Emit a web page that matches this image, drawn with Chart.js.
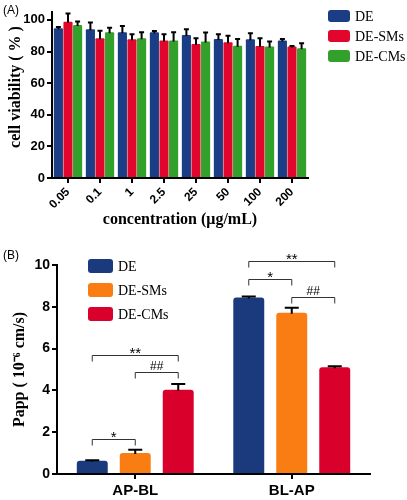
<!DOCTYPE html>
<html>
<head>
<meta charset="utf-8">
<script src="https://cdn.jsdelivr.net/npm/chart.js@4.4.0/dist/chart.umd.min.js"></script>
<style>
	html, body { margin: 0; padding: 0; background: #fff; }
	#wrap { position: relative; width: 407px; height: 500px; }
	canvas { position: absolute; left: 0; }
	#chartA { top: 0; }
	#chartB { top: 232px; }
	.panel { position: absolute; left: 3px; font: 12px "Liberation Sans", Arial, sans-serif; color: #000; }
</style>
</head>
<body>
<div id="wrap">
	<canvas id="chartA" width="407" height="232"></canvas>
	<canvas id="chartB" width="407" height="268"></canvas>
	<div class="panel" style="top:3px">(A)</div>
	<div class="panel" style="top:248px">(B)</div>
</div>
<script>
// panel A: cell viability
const concentrations = ["0.05", "0.1", "1", "2.5", "25", "50", "100", "200"];
const viabilityDE = [94.7, 94.1, 92.2, 92.2, 90.5, 88.0, 87.8, 86.9];
const viabilityDEErr = [0.8, 4.2, 4.0, 0.8, 3.6, 3.0, 3.8, 1.1];
const viabilitySMs = [98.9, 88.4, 87.8, 86.9, 84.8, 85.9, 83.5, 83.1];
const viabilitySMsErr = [5.1, 4.8, 3.2, 4.1, 3.6, 4.1, 4.9, 0.4];
const viabilityCMs = [96.8, 92.2, 88.4, 86.9, 86.3, 83.7, 83.1, 82.1];
const viabilityCMsErr = [2.2, 2.9, 3.8, 5.3, 5.7, 4.3, 3.2, 3.2];
const viabilityTicks = [0, 20, 40, 60, 80, 100];

// panel B: permeability
const directions = ["AP-BL", "BL-AP"];
const pappDE = [0.63, 8.44];
const pappDEErr = [0.03, 0.05];
const pappSMs = [1.0, 7.72];
const pappSMsErr = [0.16, 0.23];
const pappCMs = [4.03, 5.11];
const pappCMsErr = [0.28, 0.04];
const pappTicks = [0, 2, 4, 6, 8, 10];

// [category, from series, to series, height, label]
const significance = [
	[0, 0, 1, 1.67, "*"],
	[0, 1, 2, 4.87, "##"],
	[0, 0, 2, 5.67, "**"],
	[1, 0, 1, 9.33, "*"],
	[1, 1, 2, 8.49, "##"],
	[1, 0, 2, 10.2, "**"],
];

const SANS = "'Liberation Sans', Arial, sans-serif";
const SERIF = "'Liberation Serif', 'Times New Roman', serif";

const errorBars = {
	id: "errorBars",
	afterDatasetsDraw(chart, args, opts) {
		const ctx = chart.ctx;
		const y = chart.scales.y;
		ctx.save();
		ctx.strokeStyle = "#000";
		ctx.lineWidth = opts.lineWidth;
		chart.data.datasets.forEach((ds, i) => {
			const meta = chart.getDatasetMeta(i);
			meta.data.forEach((bar, j) => {
				const top = y.getPixelForValue(ds.data[j] + ds.errors[j]);
				ctx.beginPath();
				ctx.moveTo(bar.x, bar.y + 1);
				ctx.lineTo(bar.x, top);
				ctx.moveTo(bar.x - opts.cap / 2, top);
				ctx.lineTo(bar.x + opts.cap / 2, top);
				ctx.stroke();
			});
		});
		ctx.restore();
	},
};

const panelLegend = {
	id: "panelLegend",
	afterDraw(chart, args, opts) {
		const ctx = chart.ctx;
		ctx.save();
		chart.data.datasets.forEach((ds, i) => {
			const cy = opts.y + i * opts.gap;
			ctx.fillStyle = ds.backgroundColor;
			ctx.beginPath();
			ctx.roundRect(opts.x, cy - opts.boxH / 2, opts.boxW, opts.boxH, 3);
			ctx.fill();
			ctx.fillStyle = "#000";
			ctx.font = opts.font;
			ctx.textBaseline = "middle";
			ctx.textAlign = "left";
			ctx.fillText(ds.label, opts.x + opts.boxW + 5, cy + 1);
		});
		ctx.restore();
	},
};

const brackets = {
	id: "brackets",
	afterDatasetsDraw(chart, args, opts) {
		if (!opts.items) return;
		const ctx = chart.ctx;
		const y = chart.scales.y;
		ctx.save();
		opts.items.forEach(([cat, a, b, h, label]) => {
			const x1 = chart.getDatasetMeta(a).data[cat].x;
			const x2 = chart.getDatasetMeta(b).data[cat].x;
			const py = Math.round(y.getPixelForValue(h)) + 0.5;
			ctx.strokeStyle = "#333";
			ctx.lineWidth = 1;
			ctx.beginPath();
			ctx.moveTo(x1, py + 6);
			ctx.lineTo(x1, py);
			ctx.lineTo(x2, py);
			ctx.lineTo(x2, py + 6);
			ctx.stroke();
			ctx.fillStyle = "#000";
			ctx.font = label === "##" ? "12px " + SANS : "15px " + SANS;
			ctx.textAlign = "center";
			ctx.textBaseline = "alphabetic";
			ctx.fillText(label, (x1 + x2) / 2, label === "##" ? py - 3 : py + 2);
		});
		ctx.restore();
	},
};

function axisGrid() {
	return {
		display: true,
		drawOnChartArea: false,
		drawTicks: true,
		tickLength: 5,
		color: "#000",
		lineWidth: 2,
		offset: false,
	};
}

new Chart(document.getElementById("chartA"), {
	type: "bar",
	data: {
		labels: concentrations,
		datasets: [
			{ label: "DE", data: viabilityDE, errors: viabilityDEErr, backgroundColor: "#1b3d86" },
			{ label: "DE-SMs", data: viabilitySMs, errors: viabilitySMsErr, backgroundColor: "#e2062c" },
			{ label: "DE-CMs", data: viabilityCMs, errors: viabilityCMsErr, backgroundColor: "#33a02c" },
		],
	},
	options: {
		responsive: false,
		animation: false,
		devicePixelRatio: 1,
		datasets: {
			bar: { categoryPercentage: 0.9, barPercentage: 0.95, borderRadius: 1 },
		},
		layout: { padding: { top: 12, right: 99, left: 0, bottom: 0 } },
		plugins: {
			legend: { display: false },
			tooltip: { enabled: false },
			errorBars: { lineWidth: 2, cap: 5 },
			panelLegend: { x: 328, y: 16, gap: 20, boxW: 22, boxH: 12, font: "14px " + SERIF },
		},
		scales: {
			x: {
				grid: axisGrid(),
				border: { display: true, color: "#000", width: 2 },
				ticks: {
					autoSkip: false,
					minRotation: 45,
					maxRotation: 45,
					color: "#000",
					padding: 2,
					font: { family: SANS, size: 12, weight: "bold" },
				},
				title: {
					display: true,
					text: "concentration (μg/mL)",
					color: "#000",
					padding: { top: 0, bottom: 3 },
					font: { family: SERIF, size: 16, weight: "bold" },
				},
				afterFit: (scale) => { scale.height = 54; },
			},
			y: {
				min: 0,
				max: 105,
				afterBuildTicks: (scale) => { scale.ticks = viabilityTicks.map((v) => ({ value: v })); },
				grid: axisGrid(),
				border: { display: true, color: "#000", width: 2 },
				ticks: {
					color: "#000",
					padding: 2,
					font: { family: SANS, size: 13, weight: "bold" },
				},
				title: {
					display: true,
					text: "    cell viability ( % )",
					color: "#000",
					padding: { top: 6, bottom: 0 },
					font: { family: SERIF, size: 16, weight: "bold" },
				},
				afterFit: (scale) => { scale.width = 52; },
			},
		},
	},
	plugins: [errorBars, panelLegend],
});

new Chart(document.getElementById("chartB"), {
	type: "bar",
	data: {
		labels: directions,
		datasets: [
			{ label: "DE", data: pappDE, errors: pappDEErr, backgroundColor: "#1b3a7d" },
			{ label: "DE-SMs", data: pappSMs, errors: pappSMsErr, backgroundColor: "#f97d12" },
			{ label: "DE-CMs", data: pappCMs, errors: pappCMsErr, backgroundColor: "#d9002b" },
		],
	},
	options: {
		responsive: false,
		animation: false,
		devicePixelRatio: 1,
		datasets: {
			bar: { categoryPercentage: 0.824, barPercentage: 0.72, borderRadius: 3, borderSkipped: "bottom" },
		},
		layout: { padding: { top: 33, right: 37, left: 0, bottom: 0 } },
		plugins: {
			legend: { display: false },
			tooltip: { enabled: false },
			errorBars: { lineWidth: 2, cap: 14 },
			panelLegend: { x: 88, y: 34, gap: 24, boxW: 25, boxH: 14, font: "14px " + SERIF },
			brackets: { items: significance },
		},
		scales: {
			x: {
				grid: axisGrid(),
				border: { display: true, color: "#000", width: 2 },
				ticks: {
					color: "#000",
					padding: 3,
					font: { family: SANS, size: 15, weight: "bold" },
				},
				afterFit: (scale) => { scale.height = 26; },
			},
			y: {
				min: 0,
				max: 10,
				afterBuildTicks: (scale) => { scale.ticks = pappTicks.map((v) => ({ value: v })); },
				grid: axisGrid(),
				border: { display: true, color: "#000", width: 2 },
				ticks: {
					color: "#000",
					padding: 2,
					font: { family: SANS, size: 14, weight: "bold" },
				},
				title: {
					display: true,
					text: "Papp ( 10⁻⁶ cm/s)",
					color: "#000",
					padding: { top: 10, bottom: 0 },
					font: { family: SERIF, size: 16, weight: "bold" },
				},
				afterFit: (scale) => { scale.width = 57; },
			},
		},
	},
	plugins: [errorBars, panelLegend, brackets],
});
</script>
</body>
</html>
